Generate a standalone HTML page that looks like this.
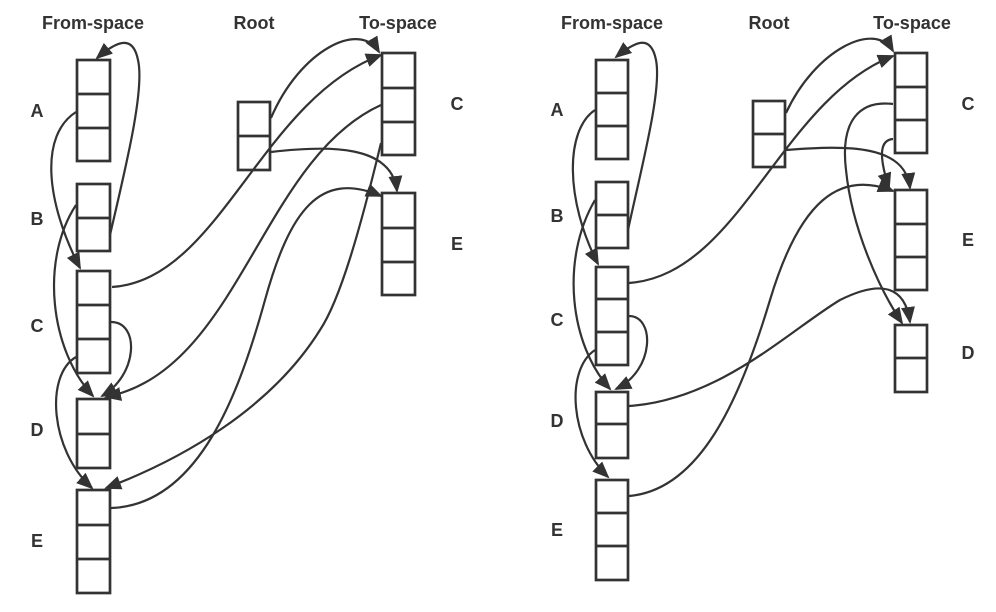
<!DOCTYPE html>
<html><head><meta charset="utf-8"><style>
html,body{margin:0;padding:0;background:#fff;width:996px;height:612px;overflow:hidden}
svg{display:block}
text{font-family:"Liberation Sans",sans-serif;font-weight:bold;font-size:18px;fill:#333}
.b{fill:none;stroke:#333;stroke-width:2.7}
.a{fill:none;stroke:#333;stroke-width:2.2;marker-end:url(#m)}
</style></head><body>
<svg width="996" height="612" viewBox="0 0 996 612">
<defs><marker id="m" markerWidth="17" markerHeight="14" refX="15" refY="7" orient="auto" markerUnits="userSpaceOnUse"><path d="M0,0 L17,7 L0,14 z" fill="#333"/></marker></defs>
<!-- LEFT -->
<text x="93" y="29" text-anchor="middle">From-space</text>
<text x="254" y="29" text-anchor="middle">Root</text>
<text x="398" y="29" text-anchor="middle">To-space</text>
<text x="37" y="117" text-anchor="middle">A</text>
<text x="37" y="225" text-anchor="middle">B</text>
<text x="37" y="332" text-anchor="middle">C</text>
<text x="37" y="436" text-anchor="middle">D</text>
<text x="37" y="547" text-anchor="middle">E</text>
<text x="457" y="110" text-anchor="middle">C</text>
<text x="457" y="250" text-anchor="middle">E</text>
<g class="b">
<rect x="77" y="60" width="33" height="101"/><line x1="77" y1="94" x2="110" y2="94"/><line x1="77" y1="128" x2="110" y2="128"/>
<rect x="77" y="184" width="33" height="67"/><line x1="77" y1="218" x2="110" y2="218"/>
<rect x="77" y="271" width="33" height="102"/><line x1="77" y1="305" x2="110" y2="305"/><line x1="77" y1="339" x2="110" y2="339"/>
<rect x="77" y="399" width="33" height="69"/><line x1="77" y1="434" x2="110" y2="434"/>
<rect x="77" y="490" width="33" height="103"/><line x1="77" y1="525" x2="110" y2="525"/><line x1="77" y1="559" x2="110" y2="559"/>
<rect x="238" y="102" width="32" height="68"/><line x1="238" y1="136" x2="270" y2="136"/>
<rect x="382" y="53" width="33" height="102"/><line x1="382" y1="88" x2="415" y2="88"/><line x1="382" y1="122" x2="415" y2="122"/>
<rect x="382" y="193" width="33" height="102"/><line x1="382" y1="228" x2="415" y2="228"/><line x1="382" y1="262" x2="415" y2="262"/>
</g>
<path class="a" d="M110,235 C125,170 145,90 138,60 C133,35 118,40 97,58"/>
<path class="a" d="M76,112 C40,135 45,200 80,268"/>
<path class="a" d="M76,205 C40,260 50,350 93,396"/>
<path class="a" d="M111,322 C140,322 138,375 102,396"/>
<path class="a" d="M76,357 C45,375 50,450 92,488"/>
<path class="a" d="M112,287 C220,280 260,100 381,55"/>
<path class="a" d="M271,118 C300,50 360,20 379,52"/>
<path class="a" d="M271,152 C330,145 392,145 397,191"/>
<path class="a" d="M381,105 C260,160 240,370 106,397"/>
<path class="a" d="M381,143 C360,230 340,300 320,330 C270,410 180,460 106,488"/>
<path class="a" d="M111,508 C200,505 240,390 265,300 C290,210 320,170 381,196"/>
<!-- RIGHT -->
<text x="612" y="29" text-anchor="middle">From-space</text>
<text x="769" y="29" text-anchor="middle">Root</text>
<text x="912" y="29" text-anchor="middle">To-space</text>
<text x="557" y="116" text-anchor="middle">A</text>
<text x="557" y="222" text-anchor="middle">B</text>
<text x="557" y="326" text-anchor="middle">C</text>
<text x="557" y="427" text-anchor="middle">D</text>
<text x="557" y="536" text-anchor="middle">E</text>
<text x="968" y="110" text-anchor="middle">C</text>
<text x="968" y="246" text-anchor="middle">E</text>
<text x="968" y="359" text-anchor="middle">D</text>
<g class="b">
<rect x="596" y="60" width="32" height="99"/><line x1="596" y1="93" x2="628" y2="93"/><line x1="596" y1="126" x2="628" y2="126"/>
<rect x="596" y="182" width="32" height="66"/><line x1="596" y1="215" x2="628" y2="215"/>
<rect x="596" y="267" width="32" height="98"/><line x1="596" y1="299" x2="628" y2="299"/><line x1="596" y1="332" x2="628" y2="332"/>
<rect x="596" y="392" width="32" height="66"/><line x1="596" y1="424" x2="628" y2="424"/>
<rect x="596" y="480" width="32" height="100"/><line x1="596" y1="513" x2="628" y2="513"/><line x1="596" y1="546" x2="628" y2="546"/>
<rect x="753" y="101" width="32" height="66"/><line x1="753" y1="134" x2="785" y2="134"/>
<rect x="895" y="53" width="32" height="100"/><line x1="895" y1="87" x2="927" y2="87"/><line x1="895" y1="120" x2="927" y2="120"/>
<rect x="895" y="190" width="32" height="100"/><line x1="895" y1="224" x2="927" y2="224"/><line x1="895" y1="257" x2="927" y2="257"/>
<rect x="895" y="325" width="32" height="67"/><line x1="895" y1="358" x2="927" y2="358"/>
</g>
<path class="a" d="M628,230 C642,165 662,90 656,60 C651,35 637,40 616,57"/>
<path class="a" d="M595,110 C565,130 565,200 598,264"/>
<path class="a" d="M595,200 C560,260 570,345 610,389"/>
<path class="a" d="M629,316 C655,316 655,370 616,389"/>
<path class="a" d="M595,350 C565,370 570,440 608,477"/>
<path class="a" d="M629,283 C740,275 780,100 893,56"/>
<path class="a" d="M786,113 C815,50 875,20 893,51"/>
<path class="a" d="M786,150 C850,145 905,145 910,188"/>
<path class="a" d="M893,104 C860,100 840,120 846,170 C852,230 880,290 902,323"/>
<path class="a" d="M893,139 C878,140 880,160 889,188"/>
<path class="a" d="M629,406 C720,400 790,330 840,300 C880,280 905,285 910,322"/>
<path class="a" d="M629,496 C700,490 740,400 770,300 C800,200 840,170 893,191"/>
</svg>
</body></html>
